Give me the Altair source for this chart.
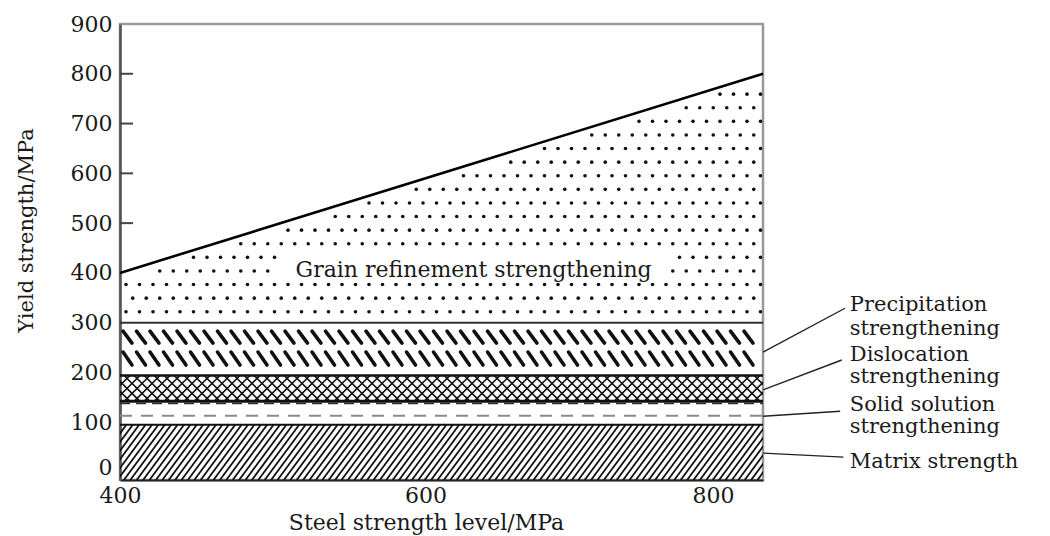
import altair as alt
import numpy as np
import pandas as pd

# ---------------- data ----------------
x_domain = [400, 800]
y_domain = [-16, 900]
x_ticks = [400, 600, 800]
y_ticks = [0, 100, 200, 300, 400, 500, 600, 700, 800, 900]
y_inner_ticks = [500, 600, 700, 800]

# total yield strength line (steel strength level vs yield strength)
line_x = [400, 800]
line_y = [400, 800]

# band boundaries (MPa)
matrix_top = 95
solid_dash = 113
solid_top = 142
disloc_top = 194
precip_top = 300
boundaries = [matrix_top, solid_top, disloc_top, precip_top]
boundary_widths = [2.2, 3.0, 2.6, 2.0]
boundary_colors = ["#111", "#111", "#111", "#333"]

# right-hand labels
label_text = ["Precipitation", "strengthening", "Dislocation", "strengthening",
              "Solid solution", "strengthening", "Matrix strength"]
label_x = [854, 854, 854, 854, 854, 854, 854]
label_y = [323, 276, 223, 179, 122, 78, 8]

leader_x1 = [800, 800, 800, 800]
leader_y1 = [241, 165, 112, 38]
leader_x2 = [851, 849, 848, 850]
leader_y2 = [329, 225, 122, 30]

grain_text = ["Grain refinement strengthening"]
grain_x = [620]
grain_y = [392]

# ---------------- geometry helpers for textures ----------------
W, H = 643, 456
XPX = W / (x_domain[1] - x_domain[0])
YPX = H / (y_domain[1] - y_domain[0])
FONT = "DejaVu Serif"

xs = alt.Scale(domain=x_domain, nice=False, zero=False)
ys = alt.Scale(domain=y_domain, nice=False, zero=False)

x_axis = alt.Axis(
    values=x_ticks, title="Steel strength level/MPa", ticks=False, grid=False,
    labelFlush=False, labelOverlap=False, labelPadding=5,
    labelFont=FONT, labelFontSize=22, labelColor="#1a1a1a",
    labelOffset={"condition": [{"test": "datum.value == 600", "value": -16},
                               {"test": "datum.value == 800", "value": -50}],
                 "value": 0},
    titleFont=FONT, titleFontSize=22, titleFontWeight="normal", titleColor="#1a1a1a",
    titleX=306, titleY=49, titleBaseline="alphabetic",
    domainColor="#222", domainWidth=2.2,
)
y_axis = alt.Axis(
    values=y_ticks, title="Yield strength/MPa", ticks=False, grid=False,
    labelOverlap=False, labelPadding=8, labelFlush=False,
    labelFont=FONT, labelFontSize=22, labelColor="#1a1a1a",
    labelOffset={"condition": {"test": "datum.value == 0", "value": -5}, "value": 0},
    titleFont=FONT, titleFontSize=21, titleFontWeight="normal", titleColor="#1a1a1a",
    titleX=-94, titleY=206, titleBaseline="middle", titleAngle=-90,
    domainColor="#555", domainWidth=2.6,
)


def X(f):
    return alt.X(f, type="quantitative", scale=xs, axis=x_axis)


def Y(f):
    return alt.Y(f, type="quantitative", scale=ys, axis=y_axis)


def segs_rule(df, width, color="#111", cap="butt", clip=True):
    return alt.Chart(df).mark_rule(strokeWidth=width, color=color, clip=clip,
                                   strokeCap=cap).encode(
        x=X("x1"), y=Y("y1"), x2="x2", y2="y2")


def hatch(ylo, yhi, spacing_px, dx_px, direction):
    w = dx_px / XPX
    step = spacing_px / XPX
    x0 = np.arange(x_domain[0] - w - step, x_domain[1] + step, step)
    if direction == "/":
        return pd.DataFrame({"x1": x0, "y1": ylo, "x2": x0 + w, "y2": yhi})
    return pd.DataFrame({"x1": x0, "y1": yhi, "x2": x0 + w, "y2": ylo})


# matrix band hatch "///"
band_h_matrix = (matrix_top - y_domain[0]) * YPX
matrix_df = hatch(y_domain[0], matrix_top, 6.4, band_h_matrix / 1.35, "/")
# dislocation cross hatch
band_h_dis = (disloc_top - solid_top) * YPX
cross_df = pd.concat([hatch(solid_top, disloc_top, 10, band_h_dis, "/"),
                      hatch(solid_top, disloc_top, 10, band_h_dis, "\\")])

# precipitation strokes (two rows of short "\" dashes)
p_step = 13.5 / XPX
p_w = 9 / XPX
px0 = np.arange(x_domain[0] + 3 / XPX, x_domain[1] - 8 / XPX, p_step)
precip_df = pd.concat([
    pd.DataFrame({"x1": px0, "y1": 283, "x2": px0 + p_w, "y2": 259}),
    pd.DataFrame({"x1": px0, "y1": 241, "x2": px0 + p_w, "y2": 215}),
])

# dots of grain refinement region
dx_step = 13.5 / XPX
dy_step = 13.6 / YPX
tx0, tx1 = 400 + 160 / XPX, 400 + 550 / XPX
ty0, ty1 = 378, 438
dots = []
k = 0
yv = 322.0
while yv < 800:
    off = (k % 2) * dx_step / 2
    xv = x_domain[0] + 6 / XPX + off
    while xv < x_domain[1] - 2 / XPX:
        if yv < xv - 7 / YPX and not (tx0 < xv < tx1 and ty0 < yv < ty1):
            dots.append((xv, yv))
        xv += dx_step
    yv += dy_step
    k += 1
dots_df = pd.DataFrame(dots, columns=["x", "y"])

# ---------------- layers ----------------
layers = []
layers.append(segs_rule(matrix_df, 1.8))
layers.append(segs_rule(cross_df, 1.6))
layers.append(segs_rule(precip_df, 3.6, cap="round"))
layers.append(alt.Chart(dots_df).mark_circle(size=13, color="#111", opacity=1, clip=True).encode(
    x=X("x"), y=Y("y")))

for yv_, w_, c_ in zip(boundaries, boundary_widths, boundary_colors):
    layers.append(alt.Chart(pd.DataFrame({"x1": [x_domain[0]], "x2": [x_domain[1]], "y": [yv_]}))
                  .mark_rule(strokeWidth=w_, color=c_).encode(x=X("x1"), x2="x2", y=Y("y")))

layers.append(alt.Chart(pd.DataFrame({"x1": [x_domain[0]], "x2": [x_domain[1]], "y": [solid_dash]}))
              .mark_rule(strokeWidth=2, color="#8a8a8a", strokeDash=[12, 9])
              .encode(x=X("x1"), x2="x2", y=Y("y")))
layers.append(alt.Chart(pd.DataFrame({"x1": [x_domain[0]], "x2": [x_domain[1]], "y": [solid_top - 4]}))
              .mark_rule(strokeWidth=1.6, color="#333", strokeDash=[10, 6])
              .encode(x=X("x1"), x2="x2", y=Y("y")))

layers.append(alt.Chart(pd.DataFrame({"x": line_x, "y": line_y}))
              .mark_line(color="#000", strokeWidth=2.6).encode(x=X("x"), y=Y("y")))

layers.append(alt.Chart(pd.DataFrame({"y": y_inner_ticks}))
              .mark_rule(color="#444", strokeWidth=2)
              .encode(x=alt.value(0), x2=alt.value(13), y=Y("y")))

layers.append(alt.Chart(pd.DataFrame({"x1": leader_x1, "y1": leader_y1, "x2": leader_x2, "y2": leader_y2}))
              .mark_rule(color="#222", strokeWidth=1.4, clip=False)
              .encode(x=X("x1"), y=Y("y1"), x2="x2", y2="y2"))

layers.append(alt.Chart(pd.DataFrame({"t": label_text, "x": label_x, "y": label_y}))
              .mark_text(font=FONT, fontSize=21, color="#1a1a1a", align="left",
                         baseline="alphabetic")
              .encode(x=X("x"), y=Y("y"), text="t"))

layers.append(alt.Chart(pd.DataFrame({"t": grain_text, "x": grain_x, "y": grain_y}))
              .mark_text(font=FONT, fontSize=22, color="#1a1a1a", align="center",
                         baseline="alphabetic")
              .encode(x=X("x"), y=Y("y"), text="t"))

chart = alt.layer(*layers).properties(
    width=W, height=H,
    autosize=alt.AutoSizeParams(type="none"),
    padding={"left": 120, "top": 24, "right": 287, "bottom": 56},
    background="white",
).configure_view(stroke="#999", strokeWidth=2.5)

chart.save("out.html", embed_options={"renderer": "svg", "actions": False})
